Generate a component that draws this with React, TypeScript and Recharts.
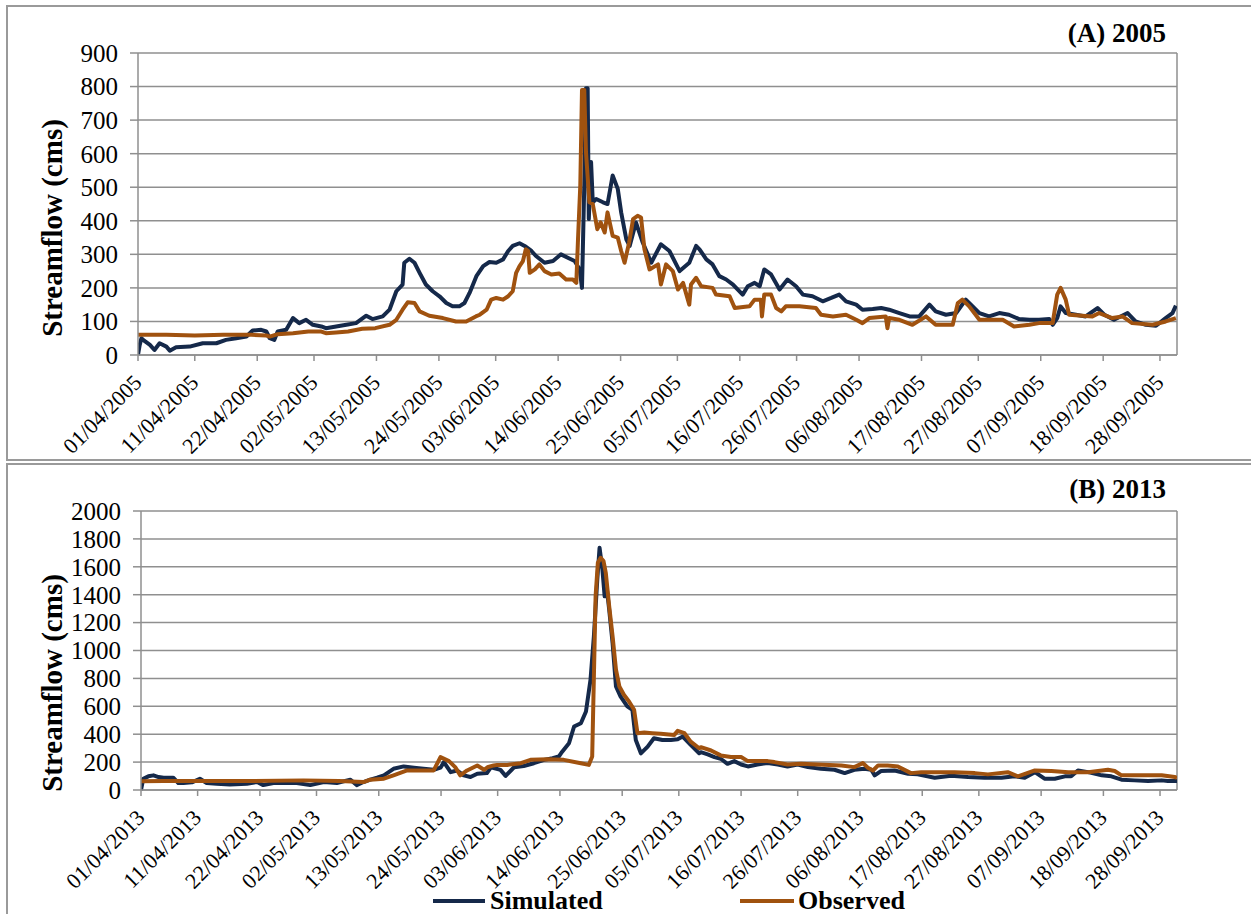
import React from 'react';
import { LineChart, Line, XAxis, YAxis, CartesianGrid, ReferenceLine } from 'recharts';

// ---------- Axis ticks ----------
const tickDays = [0, 10, 21, 31, 42, 53, 63, 74, 85, 95, 106, 116, 127, 138, 148, 159, 170, 180];
const tickDates = ['01/04', '11/04', '22/04', '02/05', '13/05', '24/05', '03/06', '14/06', '25/06', '05/07', '16/07', '26/07', '06/08', '17/08', '27/08', '07/09', '18/09', '28/09'];
const yTicks2005 = [0, 100, 200, 300, 400, 500, 600, 700, 800, 900];
const yTicks2013 = [0, 200, 400, 600, 800, 1000, 1200, 1400, 1600, 1800, 2000];

// ---------- (A) 2005 : days since 01/04 ----------
const sim2005Days = [0, 0.3, 0.6, 0.9, 2.1, 2.9, 3.8, 5.0, 5.6, 6.7, 9.1, 11.4, 13.8, 15.5, 17.3, 19.1, 20.2, 21.7, 22.6, 23.2, 24.0, 24.6, 26.1, 27.3, 28.4, 29.6, 30.8, 32.3, 33.1, 34.9, 36.7, 38.4, 40.2, 41.3, 43.1, 44.3, 45.5, 46.6, 46.9, 47.8, 48.7, 49.6, 50.7, 51.9, 53.1, 54.3, 55.4, 56.6, 57.5, 58.4, 59.6, 60.8, 61.9, 63.1, 64.3, 65.2, 66.0, 67.2, 68.1, 69.3, 70.1, 71.6, 73.1, 74.5, 75.7, 76.9, 77.8, 78.2, 78.6, 78.9, 79.2, 79.4, 79.8, 80.1, 80.7, 81.9, 82.7, 83.6, 84.5, 85.1, 86.0, 86.6, 87.7, 88.9, 90.4, 92.1, 93.6, 95.4, 97.1, 98.3, 98.9, 100.1, 101.2, 102.4, 103.6, 104.8, 106.5, 107.4, 108.6, 109.5, 110.3, 111.5, 113.0, 114.4, 115.9, 117.1, 118.8, 120.6, 122.1, 123.5, 124.7, 126.5, 127.6, 129.4, 130.9, 132.3, 134.1, 135.9, 137.6, 139.4, 140.5, 142.3, 144.1, 145.8, 146.7, 148.2, 149.9, 151.7, 153.4, 155.2, 157.0, 158.7, 160.5, 161.1, 161.9, 162.5, 163.4, 165.2, 166.9, 169.0, 170.2, 171.9, 174.3, 175.7, 177.5, 179.3, 181.0, 182.2, 182.8];
const sim2005Flow = [0, 30, 50, 45, 30, 15, 35, 25, 13, 23, 25, 35, 35, 45, 50, 55, 73, 75, 70, 50, 45, 70, 75, 110, 95, 105, 90, 85, 80, 85, 90, 95, 117, 107, 115, 135, 190, 210, 275, 287, 275, 245, 210, 190, 175, 155, 145, 145, 155, 185, 235, 265, 277, 275, 285, 310, 325, 333, 325, 310, 295, 275, 280, 300, 290, 280, 255, 200, 505, 795, 795, 405, 575, 455, 465, 455, 450, 535, 495, 425, 345, 325, 395, 335, 275, 330, 310, 250, 275, 325, 315, 285, 270, 235, 225, 210, 180, 205, 215, 205, 255, 240, 195, 225, 205, 180, 175, 160, 170, 180, 160, 150, 135, 137, 140, 135, 125, 115, 115, 150, 130, 120, 125, 165, 150, 125, 115, 125, 120, 107, 105, 105, 107, 90, 110, 145, 125, 120, 115, 140, 120, 105, 125, 100, 90, 87, 110, 125, 147];

const obs2005Days = [0, 5, 10, 15, 20, 22.6, 23.2, 24.6, 27.3, 30.0, 32.3, 33.1, 34.9, 37.0, 39.5, 41.8, 44.3, 45.5, 46.6, 47.5, 48.7, 49.6, 51.3, 53.7, 56.0, 57.8, 59.5, 60.2, 61.4, 62.2, 63.1, 64.3, 65.2, 66.0, 66.6, 67.2, 67.8, 68.3, 68.7, 69.0, 69.9, 70.7, 71.6, 72.8, 74.2, 75.4, 76.6, 77.2, 77.5, 77.9, 78.2, 78.6, 78.9, 79.5, 80.1, 80.9, 81.5, 82.2, 82.7, 83.6, 84.5, 85.1, 85.7, 86.5, 87.2, 88.0, 88.6, 89.2, 90.1, 91.6, 92.1, 93.0, 94.2, 95.1, 96.0, 97.1, 97.4, 98.3, 99.2, 101.2, 101.8, 104.2, 105.1, 107.7, 108.6, 109.7, 109.9, 110.3, 111.5, 112.4, 113.3, 114.1, 116.5, 119.4, 120.3, 122.4, 124.7, 126.5, 127.6, 128.8, 131.7, 132.0, 132.3, 134.1, 136.4, 138.8, 140.5, 143.5, 144.4, 145.2, 146.4, 148.2, 149.9, 152.3, 154.3, 157.0, 158.7, 161.1, 161.9, 162.5, 163.4, 164.0, 166.3, 168.1, 169.3, 171.6, 173.4, 175.1, 178.7, 181.0, 182.8];
const obs2005Flow = [60, 60, 58, 60, 60, 58, 55, 62, 65, 70, 70, 65, 67, 70, 78, 80, 90, 105, 135, 157, 155, 130, 117, 110, 100, 100, 115, 120, 135, 165, 170, 165, 175, 190, 245, 265, 280, 315, 310, 245, 255, 270, 250, 240, 243, 225, 225, 215, 345, 505, 790, 790, 605, 455, 450, 375, 395, 365, 425, 355, 350, 310, 275, 335, 405, 415, 410, 315, 255, 270, 210, 270, 250, 195, 215, 150, 210, 230, 205, 200, 180, 175, 140, 145, 165, 165, 115, 180, 180, 140, 130, 145, 145, 140, 120, 115, 120, 105, 95, 110, 115, 80, 110, 105, 90, 115, 90, 90, 155, 165, 145, 105, 105, 105, 85, 90, 95, 95, 180, 200, 165, 120, 117, 115, 125, 110, 115, 95, 90, 100, 110];

// ---------- (B) 2013 : days since 01/04 ----------
const sim2013Days = [0, 0.4, 1.3, 2.2, 3.1, 4.0, 5.7, 6.6, 7.5, 9.0, 10.4, 11.6, 13.4, 15.7, 18.7, 20.5, 21.6, 23.4, 27.5, 29.9, 32.3, 34.6, 37.0, 38.1, 39.3, 40.5, 41.7, 42.9, 44.6, 46.4, 48.2, 49.9, 51.7, 52.9, 53.5, 54.7, 55.8, 57.0, 58.2, 59.4, 61.1, 61.8, 63.5, 64.4, 65.9, 67.6, 69.4, 71.2, 72.7, 73.8, 74.4, 75.6, 76.5, 77.7, 78.6, 79.4, 80.0, 80.6, 81.0, 81.5, 81.9, 82.3, 82.7, 83.3, 83.9, 84.7, 85.9, 86.8, 87.4, 88.3, 89.5, 90.6, 92.1, 93.6, 94.8, 95.7, 97.1, 98.6, 98.9, 100.1, 101.3, 102.4, 103.6, 104.8, 106.0, 107.2, 108.9, 110.7, 112.5, 114.2, 116.0, 117.8, 120.1, 122.5, 124.3, 126.0, 127.8, 129.0, 129.6, 130.7, 133.1, 135.5, 137.2, 140.2, 143.1, 146.1, 149.0, 152.0, 154.3, 156.1, 157.9, 159.6, 161.4, 163.2, 164.3, 165.5, 167.3, 169.7, 171.4, 173.2, 175.5, 177.9, 180.3, 181.4, 183.0];
const sim2013Flow = [0, 81, 98, 105, 93, 88, 88, 50, 50, 55, 81, 50, 45, 40, 45, 57, 35, 50, 50, 35, 57, 50, 74, 35, 57, 74, 88, 105, 152, 169, 160, 152, 145, 160, 200, 128, 140, 105, 93, 117, 121, 163, 144, 101, 163, 172, 192, 216, 228, 240, 275, 335, 455, 479, 563, 790, 1102, 1509, 1736, 1581, 1389, 1437, 1293, 1054, 742, 671, 599, 575, 359, 263, 311, 371, 359, 359, 364, 383, 323, 263, 271, 255, 236, 224, 188, 207, 183, 169, 183, 193, 183, 169, 183, 164, 152, 145, 121, 145, 152, 145, 105, 136, 140, 117, 112, 88, 102, 93, 88, 88, 98, 88, 128, 81, 81, 98, 98, 140, 128, 105, 98, 74, 69, 64, 69, 64, 64];

const obs2013Days = [0, 4, 10, 20, 28.7, 35, 39.3, 40.5, 42.9, 44.6, 47.0, 49.4, 51.7, 52.9, 54.4, 55.5, 56.4, 57.6, 59.4, 60.6, 61.2, 62.3, 62.9, 64.7, 67.1, 68.8, 71.8, 74.7, 77.7, 79.1, 79.7, 80.3, 80.7, 81.2, 81.7, 82.1, 82.7, 83.3, 83.9, 84.5, 85.3, 86.2, 87.1, 87.7, 88.9, 90.3, 91.8, 94.2, 94.8, 96.0, 97.1, 98.6, 98.9, 100.7, 102.4, 104.2, 106.0, 107.2, 110.7, 111.9, 114.2, 116.6, 119.5, 123.7, 126.0, 127.5, 128.4, 129.3, 130.2, 131.9, 133.7, 136.0, 137.8, 140.2, 143.7, 147.3, 149.6, 153.1, 154.9, 157.9, 160.8, 163.8, 167.3, 170.8, 172.0, 173.2, 175.5, 180.3, 182.6, 183.0];
const obs2013Flow = [62, 64, 64, 64, 69, 64, 57, 74, 81, 105, 140, 140, 140, 236, 207, 164, 105, 140, 176, 145, 163, 176, 180, 180, 192, 216, 220, 216, 192, 180, 240, 1389, 1629, 1665, 1641, 1557, 1317, 1102, 862, 742, 683, 635, 575, 407, 412, 407, 403, 395, 424, 407, 347, 299, 307, 283, 248, 236, 236, 207, 207, 200, 183, 188, 183, 176, 164, 193, 160, 140, 176, 176, 169, 121, 128, 128, 128, 121, 112, 128, 98, 140, 136, 128, 128, 145, 136, 105, 105, 105, 93, 88];

const SIM_COLOR = '#15294a';
const OBS_COLOR = '#a0520f';
const GRID = '#8f8f8f';
const SERIF = '"Liberation Serif", "Times New Roman", serif';

const toPoints = (days: number[], vals: number[]) => days.map((d, i) => ({ d, v: vals[i] }));

const makeTick = (year: string) => (props: any) => {
  const { x, y, payload } = props;
  const idx = tickDays.indexOf(payload.value);
  const label = idx >= 0 ? `${tickDates[idx]}/${year}` : '';
  return (
    <g transform={`translate(${x + 5},${y + 21})`}>
      <text textAnchor="end" transform="rotate(-45)" fontSize={22} fontFamily={SERIF} fill="#000">
        {label}
      </text>
    </g>
  );
};

interface PanelProps {
  year: string;
  sim: { d: number; v: number }[];
  obs: { d: number; v: number }[];
  yTicks: number[];
  yMax: number;
  height: number;
  top: number;
  yAxisWidth: number;
  xAxisHeight: number;
}

const Panel = ({ year, sim, obs, yTicks, yMax, height, top, yAxisWidth, xAxisHeight }: PanelProps) => (
  <LineChart
    width={1251}
    height={height}
    margin={{ top, right: 74, left: 0, bottom: 0 }}
  >
    <CartesianGrid horizontal vertical={false} stroke={GRID} strokeWidth={1.5} />
    <XAxis
      type="number"
      dataKey="d"
      domain={[0, 183]}
      ticks={tickDays}
      interval={0}
      allowDataOverflow
      height={xAxisHeight}
      tickSize={6}
      stroke={GRID}
      strokeWidth={1.5}
      tick={makeTick(year)}
    />
    <YAxis
      type="number"
      domain={[0, yMax]}
      ticks={yTicks}
      interval={0}
      width={yAxisWidth}
      tickSize={8}
      tickMargin={12}
      stroke={GRID}
      strokeWidth={1.5}
      tick={{ fill: '#000', fontSize: 25, fontFamily: SERIF }}
    />
    <ReferenceLine x={183} stroke={GRID} strokeWidth={1.5} />
    <Line data={sim} dataKey="v" type="linear" stroke={SIM_COLOR} strokeWidth={4} dot={false} isAnimationActive={false} strokeLinejoin="round" />
    <Line data={obs} dataKey="v" type="linear" stroke={OBS_COLOR} strokeWidth={4} dot={false} isAnimationActive={false} strokeLinejoin="round" />
  </LineChart>
);

const boxStyle = (top: number, height: number): React.CSSProperties => ({
  position: 'absolute',
  left: 6,
  top,
  width: 1270,
  height,
  border: '2px solid #9a9a9a',
  boxSizing: 'border-box',
});

const yTitleStyle = (cy: number): React.CSSProperties => ({
  position: 'absolute',
  left: 52,
  top: cy,
  transform: 'translate(-50%, -50%) rotate(-90deg)',
  whiteSpace: 'nowrap',
  fontFamily: SERIF,
  fontWeight: 'bold',
  fontSize: 29,
  color: '#000',
});

const panelTitleStyle = (top: number): React.CSSProperties => ({
  position: 'absolute',
  right: 1251 - 1166,
  top,
  fontFamily: SERIF,
  fontWeight: 'bold',
  fontSize: 27,
  color: '#000',
  whiteSpace: 'nowrap',
  lineHeight: '30px',
});

export default function App() {
  return (
    <div style={{ position: 'absolute', left: 0, top: 0, width: 1251, height: 914, overflow: 'hidden', background: '#fff' }}>
      <div style={boxStyle(5, 456)} />
      <div style={boxStyle(463, 470)} />

      <div style={{ position: 'absolute', left: 0, top: 0 }}>
        <Panel year="2005" sim={toPoints(sim2005Days, sim2005Flow)} obs={toPoints(obs2005Days, obs2005Flow)}
          yTicks={yTicks2005} yMax={900} height={460} top={53} yAxisWidth={138} xAxisHeight={105} />
      </div>
      <div style={{ position: 'absolute', left: 0, top: 460 }}>
        <Panel year="2013" sim={toPoints(sim2013Days, sim2013Flow)} obs={toPoints(obs2013Days, obs2013Flow)}
          yTicks={yTicks2013} yMax={2000} height={454} top={51} yAxisWidth={141} xAxisHeight={124} />
      </div>

      <div style={panelTitleStyle(18)}>(A) 2005</div>
      <div style={panelTitleStyle(474)}>(B) 2013</div>
      <div style={yTitleStyle(228)}>Streamflow (cms)</div>
      <div style={yTitleStyle(683)}>Streamflow (cms)</div>

      <div style={{ position: 'absolute', left: 433, top: 899, width: 52, height: 4, background: SIM_COLOR }} />
      <div style={{ position: 'absolute', left: 490, top: 886, fontFamily: SERIF, fontWeight: 'bold', fontSize: 26, lineHeight: '30px', whiteSpace: 'nowrap' }}>Simulated</div>
      <div style={{ position: 'absolute', left: 740, top: 899, width: 54, height: 4, background: OBS_COLOR }} />
      <div style={{ position: 'absolute', left: 798, top: 886, fontFamily: SERIF, fontWeight: 'bold', fontSize: 26, lineHeight: '30px', whiteSpace: 'nowrap' }}>Observed</div>
    </div>
  );
}
